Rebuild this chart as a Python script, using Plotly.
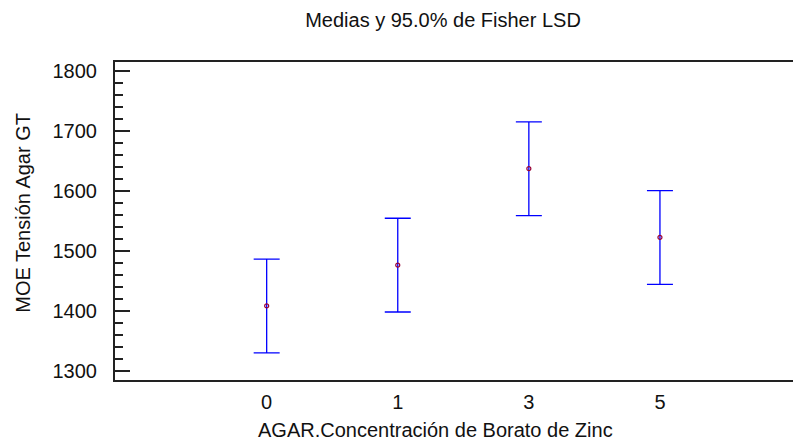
import plotly.graph_objects as go

categories = ["0", "1", "3", "5"]
means = [1408.6, 1476.5, 1637.0, 1522.6]
lsd_half = [78.0, 78.0, 78.0, 78.0]

y_tickvals = [1300, 1400, 1500, 1600, 1700, 1800]
title_text = "Medias y 95.0% de Fisher LSD"
x_title = "AGAR.Concentración de Borato de Zinc"
y_title = "MOE Tensión Agar GT"

FONT = "Liberation Sans, Arial, sans-serif"
YRANGE = [1285.4, 1814.5]

# page body has an 8px margin: offset layout accordingly
OFF = 8
W, H = 801, 445
PL, PR, PT, PB = 115, 801, 62, 380.5  # desired plot box in window pixels

fig = go.Figure()
fig.add_trace(go.Scatter(
    x=categories, y=means, mode="markers",
    marker=dict(symbol="circle-open", size=4, color="#990033", line=dict(width=1.2)),
    error_y=dict(type="data", array=lsd_half, visible=True, color="#0000FF",
                 thickness=1.3, width=13),
    showlegend=False, hoverinfo="skip",
))
# dummy trace to activate right-side y axis (ticks only)
fig.add_trace(go.Scatter(x=[categories[0]], y=[means[0]], yaxis="y2", mode="markers",
                         marker=dict(opacity=0), showlegend=False, hoverinfo="skip"))

pw = PR - PL
ph = PB - PT

fig.update_layout(
    width=W, height=H,
    margin=dict(l=PL - OFF, r=W - (PR - OFF), t=PT - OFF, b=H - (PB - OFF), pad=0),
    paper_bgcolor="white", plot_bgcolor="white",
    font=dict(family=FONT, size=20, color="#111"),
    title=dict(text=title_text, x=(443 - OFF) / W, xanchor="center", xref="container",
               y=1 - (20 - OFF) / H, yanchor="middle", yref="container",
               font=dict(size=20, family=FONT, color="#111")),
    xaxis=dict(type="category", categoryorder="array", categoryarray=categories,
               range=[-1.157, 4.076], showgrid=False, zeroline=False,
               showline=True, linecolor="#222", linewidth=2, mirror=True,
               ticks="", tickfont=dict(size=20, family=FONT, color="#111"),
               ticklabelstandoff=3),
    yaxis=dict(range=YRANGE, tickvals=y_tickvals, showgrid=False, zeroline=False,
               showline=True, linecolor="#222", linewidth=2, mirror=False,
               ticks="inside", ticklen=15, tickwidth=1.5, tickcolor="#222",
               minor=dict(dtick=20, ticks="inside", ticklen=8, tickwidth=1.5,
                          tickcolor="#222", showgrid=False),
               tickfont=dict(size=20, family=FONT, color="#111"),
               ticklabelstandoff=12),
    yaxis2=dict(range=YRANGE, tickvals=y_tickvals, overlaying="y", side="right",
                showgrid=False, zeroline=False, showline=False,
                ticks="inside", ticklen=4, tickwidth=2, tickcolor="#222",
                showticklabels=False),
    annotations=[
        dict(text=x_title, xref="paper", yref="paper", x=(435 - PL) / pw,
             y=-(431 - PB) / ph, xanchor="center", yanchor="middle",
             showarrow=False, font=dict(size=20, family=FONT, color="#111")),
        dict(text=y_title, xref="paper", yref="paper", x=(23 - PL) / pw,
             y=(PB - 213) / ph, xanchor="center", yanchor="middle", textangle=-90,
             showarrow=False, font=dict(size=20, family=FONT, color="#111")),
    ],
)

fig.write_html("out.html")
